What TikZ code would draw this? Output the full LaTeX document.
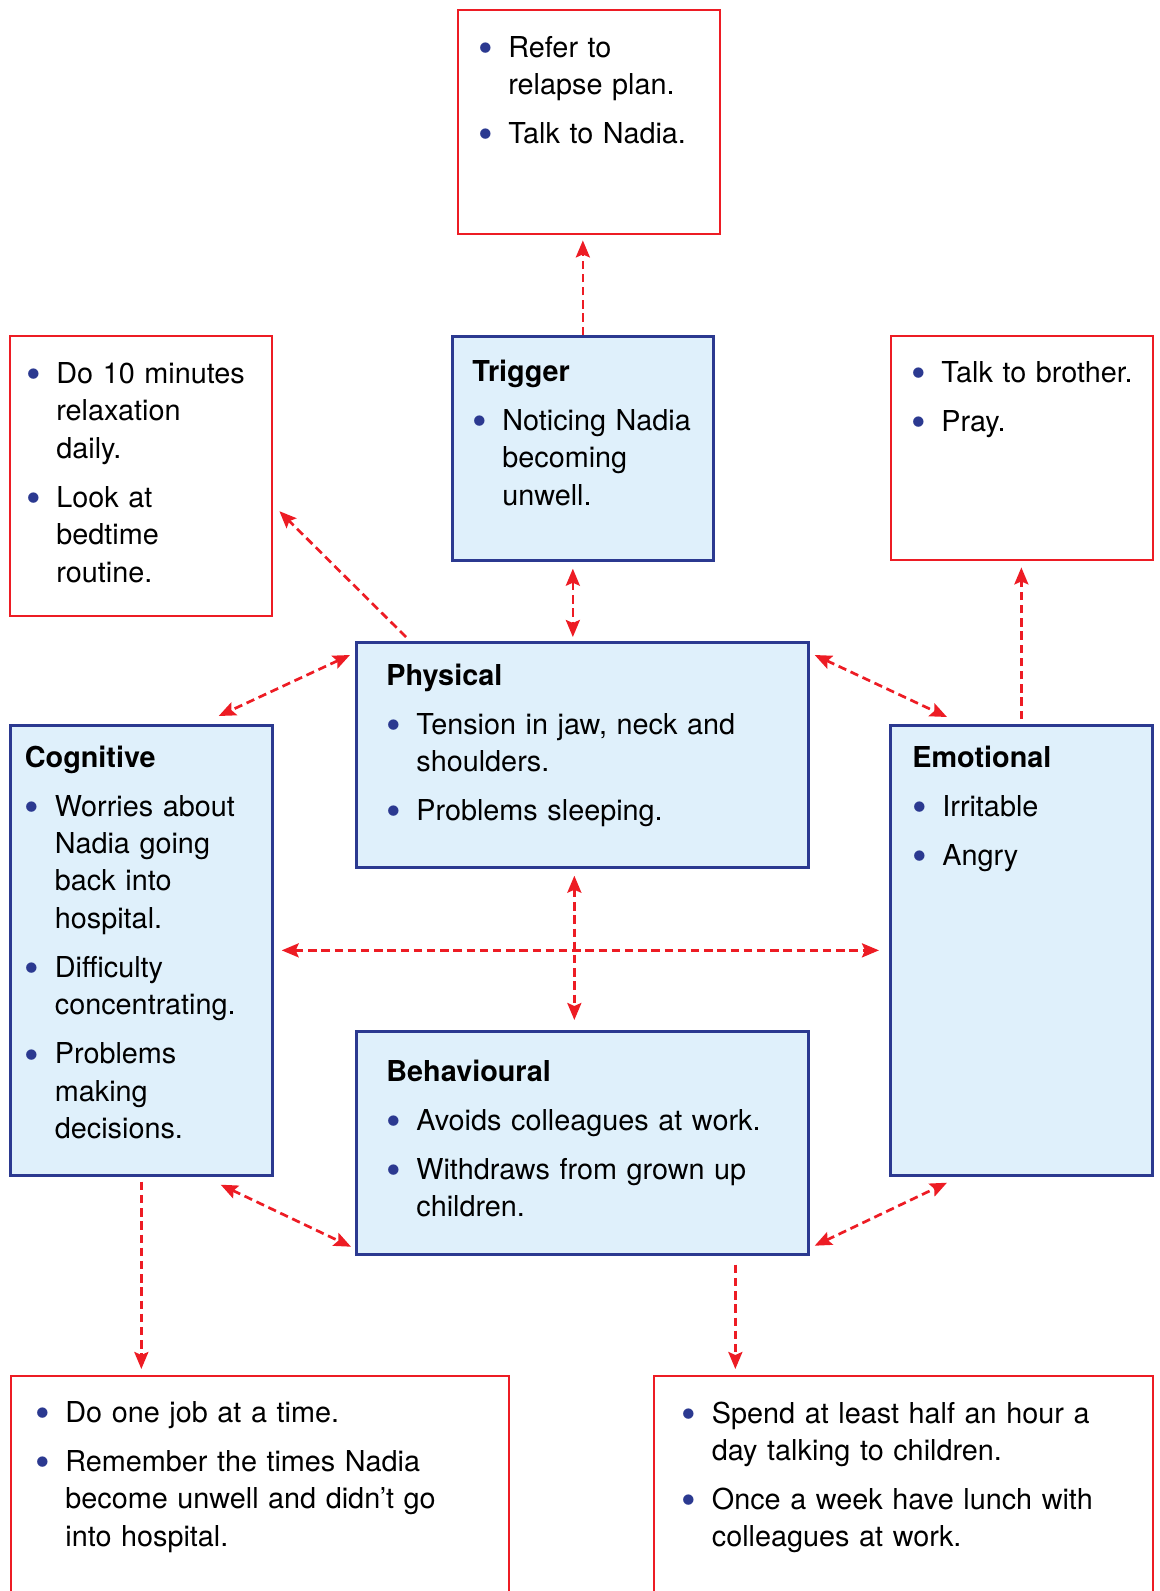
\documentclass[tikz,border=0pt]{standalone}
\usepackage{fontspec}
\setmainfont{TeX Gyre Heros}
\definecolor{alertred}{RGB}{237,28,36}
\definecolor{navyline}{RGB}{43,57,144}
\definecolor{paleblue}{RGB}{223,240,251}
\usetikzlibrary{arrows.meta, positioning}

% bullet item with hanging indent
\newcommand{\bul}[1]{\noindent\hangindent=15pt\hangafter=1%
  \makebox[15pt][l]{\raisebox{-2.7pt}{\scalebox{1.45}{\textcolor{navyline}{\textbullet}}}}#1\par}

\begin{document}
\begin{tikzpicture}[x=0.5pt, y=-0.5pt,
    >={Stealth[length=8.5pt, width=7pt, inset=1.5pt]},
    redbox/.style={draw=alertred, line width=1.2pt, anchor=north west,
                   inner sep=0pt, minimum width=131pt},
    bluebox/.style={draw=navyline, fill=paleblue, line width=1.35pt,
                    anchor=north west, inner sep=0pt},
    txt/.style={anchor=base west, inner sep=0pt, align=left,
                text width=#1, font=\fontsize{14.4}{18.7}\selectfont,
                execute at begin node={\setlength{\parskip}{5.8pt}}},
    txt/.default=125pt,
    link/.style={alertred, line width=1.35pt, dash pattern=on 4.2pt off 2.4pt}
  ]
  \useasboundingbox (0,0) rectangle (1160,1591);

  % boxes
  \node[redbox, minimum height=112pt] (plan) at (457,9) {};
  \node[bluebox, minimum width=130.5pt, minimum height=112pt] (trig) at (451,335) {};
  \node[redbox, minimum height=140pt] (relax) at (9,335) {};
  \node[redbox, minimum height=112pt] (talk) at (890,335) {};
  \node[bluebox, minimum width=226pt, minimum height=112.5pt] (phys) at (355,641) {};
  \node[bluebox, minimum width=131pt, minimum height=225pt] (cog) at (9,724) {};
  \node[bluebox, minimum width=131pt, minimum height=225pt] (emo) at (889,724) {};
  \node[bluebox, minimum width=226pt, minimum height=111.5pt] (beh) at (355,1030) {};
  \node[redbox, minimum width=249pt, minimum height=115pt] (jobs) at (10,1375) {};
  \node[redbox, minimum width=249.5pt, minimum height=115pt] (kids) at (653,1375) {};

  % texts
  \node[txt] (plantxt) at (478,57) {\bul{Refer to\newline relapse plan.}\bul{Talk to Nadia.}};
  \node[txt] (trigtxt) at (472,381.5) {\textbf{Trigger}\par
    \bul{Noticing Nadia\newline becoming\newline unwell.}};
  \node[txt] (relaxtxt) at (26,383.5) {\bul{Do 10 minutes\newline relaxation\newline daily.}
    \bul{Look at\newline bedtime\newline routine.}};
  \node[txt] (talktxt) at (911,382.5) {\bul{Talk to brother.}\bul{Pray.}};
  \node[txt=220pt] (phystxt) at (386,685) {\textbf{Physical}\par
    \bul{Tension in jaw, neck and\newline shoulders.}\bul{Problems sleeping.}};
  \node[txt] (cogtxt) at (24.5,767) {\textbf{Cognitive}\par
    \bul{Worries about\newline Nadia going\newline back into\newline hospital.}
    \bul{Difficulty\newline concentrating.}
    \bul{Problems\newline making\newline decisions.}};
  \node[txt] (emotxt) at (912,767) {\textbf{Emotional}\par\bul{Irritable}\bul{Angry}};
  \node[txt=220pt] (behtxt) at (386,1081) {\textbf{Behavioural}\par
    \bul{Avoids colleagues at work.}
    \bul{Withdraws from grown up\newline children.}};
  \node[txt=235pt] (jobstxt) at (35,1422.5) {\bul{Do one job at a time.}
    \bul{Remember the times Nadia\newline become unwell and didn’t go\newline into hospital.}};
  \node[txt=235pt] (kidstxt) at (681.5,1423) {\bul{Spend at least half an hour a\newline day talking to children.}
    \bul{Once a week have lunch with\newline colleagues at work.}};

  % connectors
  \draw[link, ->, shorten >=2.5pt] (trig.north) -- (trig.north |- plan.south);
  \draw[link, <->, shorten <=3.5pt, shorten >=2pt]
    ([xshift=-5pt]trig.south) -- ([xshift=-5pt]trig.south |- phys.north);
  \draw[link, <->, shorten <=3.5pt, shorten >=5pt]
    ([xshift=-4pt]phys.south) -- ([xshift=-4pt]phys.south |- beh.north);
  \draw[link, <->, shorten <=4pt, shorten >=5pt] (cog.east) -- (emo.west);
  \draw[link, <->] ([shift={(-5,14)}]phys.north west) -- ([shift={(-55,-8)}]cog.north east);
  \draw[link, <->] ([shift={(5,14)}]phys.north east) -- ([shift={(58,-7)}]emo.north west);
  \draw[link, <->] ([shift={(-53,8)}]cog.south east) -- ([shift={(-4,-9)}]beh.south west);
  \draw[link, <->] ([shift={(5,-10)}]beh.south east) -- ([shift={(58,6)}]emo.south west);
  \draw[link, ->] ([shift={(51,-4)}]phys.north west) -- ([shift={(6,35)}]relax.east);
  \draw[link, ->, shorten <=2.5pt, shorten >=3pt] (emo.north) -- (emo.north |- talk.south);
  \draw[link, ->, shorten <=2.5pt, shorten >=3pt] (cog.south) -- (cog.south |- jobs.north);
  \draw[link, ->, shorten <=4.5pt, shorten >=3pt]
    ([xshift=76.5pt]beh.south) -- ([xshift=76.5pt]beh.south |- kids.north);
\end{tikzpicture}
\end{document}
